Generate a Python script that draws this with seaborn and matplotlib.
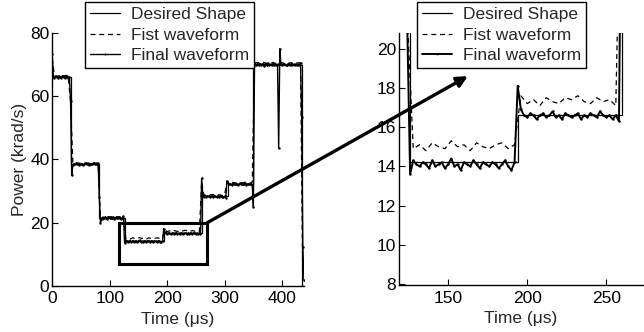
import numpy as np
import matplotlib
matplotlib.use("Agg")
import matplotlib.pyplot as plt
import seaborn as sns
from matplotlib.patches import Rectangle

# ---------------- data ----------------
# Desired step shape (time in us, level in krad/s)
desired_t = [0, 32, 82, 126, 194, 260, 305, 350, 435, 440]
desired_v = [66.0, 38.5, 21.5, 14.2, 16.6, 28.3, 32.2, 70.0, 0.0, 0.0]

# Final waveform, sampled every 2 us (segments in time order)
final_a = [73.5]
final_b = [66.2, 65.8, 66.4, 66.0, 65.7, 66.3, 66.1, 65.9, 66.5, 66.0, 65.8, 66.2, 66.3, 65.9, 66.1]
final_c = [58.5, 35.0]
final_d = [38.2, 38.6, 38.4, 38.8, 38.5, 38.3, 38.7, 38.5, 38.6, 38.2,
           38.4, 38.8, 38.5, 38.6, 38.3, 38.7, 38.4, 38.5, 38.9, 38.6,
           38.4, 38.7, 38.8]
final_e = [28.0, 20.0]
final_f = [21.2, 21.6, 21.4, 21.8, 21.5, 21.3, 21.7, 21.5, 21.4, 21.6,
           21.8, 21.3, 21.5, 21.6, 21.4, 21.7, 21.5, 21.3, 21.6, 22.0]
final_g = [13.6, 14.3]
final_h = [14.1, 14.0, 14.2, 14.1, 13.9, 14.3, 14.0, 14.1, 14.2, 13.9,
           14.1, 14.4, 14.0, 14.1, 13.8, 14.2, 14.1, 14.0, 14.3, 14.1,
           13.9, 14.2, 14.1, 14.0, 14.2, 14.1, 13.9, 14.1, 14.3, 14.0,
           13.8, 14.2]
final_i = [18.1, 16.9]
final_j = [16.6, 16.5, 16.7, 16.6, 16.4, 16.6, 16.7, 16.5, 16.6, 16.8,
           16.5, 16.6, 16.4, 16.7, 16.6, 16.5, 16.6, 16.7, 16.4, 16.6,
           16.5, 16.7, 16.6, 16.5, 16.8, 16.6, 16.5, 16.6, 16.4, 16.6,
           16.3]
final_k = [34.0, 28.6]
final_l = [28.1, 28.4, 28.2, 28.5, 28.3, 28.0, 28.4, 28.3, 28.2, 28.5,
           28.3, 28.1, 28.4, 28.2, 28.3, 28.5, 28.2, 28.0, 28.3, 27.8]
final_m = [33.2, 32.4]
final_n = [32.1, 32.3, 32.0, 32.4, 32.2, 32.1, 32.3, 32.2, 32.0, 32.4,
           32.2, 32.3, 32.1, 32.2, 32.4, 32.0, 32.3, 32.2, 32.1, 32.3, 32.0]
final_o = [25.0]
final_p = [70.3, 69.8, 70.1, 70.4, 69.9, 70.2, 70.0, 70.3, 69.7, 70.1,
           70.2, 69.9, 70.4, 70.0, 70.1, 69.8, 70.3, 70.0, 70.2, 69.9, 70.1]
final_q = [43.5, 75.0]
final_r = [70.2, 69.9, 70.1, 70.3, 69.8, 70.0, 70.2, 70.1, 69.9, 70.3,
           70.0, 70.1, 69.8, 70.2, 70.0, 70.1, 69.9, 70.4]
final_s = [53.5, 12.4, 1.8]

# First waveform, sampled every 4 us
fist_a = [72.0]
fist_b = [66.4, 66.2, 66.5, 66.3, 66.4, 66.6, 66.3]
fist_c = [58.0, 38.8, 38.7, 38.9, 38.8, 38.6, 38.9, 38.8, 38.9, 38.7, 38.9, 38.8, 38.9]
fist_d = [21.0, 21.8, 21.7, 21.9, 21.8, 21.9, 21.6, 21.9, 21.8, 21.9, 22.0]
fist_e = [14.9, 15.1, 14.8, 15.2, 15.0, 14.9, 15.3, 15.0, 15.1, 14.8,
          15.2, 15.0, 14.9, 15.1, 15.2, 14.9, 15.1]
fist_f = [17.6, 17.2, 17.4, 17.1, 17.5, 17.3, 17.2, 17.5, 17.4, 17.6,
          17.3, 17.2, 17.5, 17.3, 17.4, 17.1]
fist_g = [33.0, 28.7, 28.8, 28.6, 28.8, 28.9, 28.7, 28.8, 28.8, 28.6, 28.8, 33.0]
fist_h = [32.6, 32.8, 32.7, 32.5, 32.8, 32.7, 32.6, 32.8, 32.7, 32.5, 32.8]
fist_i = [70.5, 70.7, 70.4, 70.6, 70.7, 70.5, 70.3, 70.6, 70.7, 70.4,
          70.5, 70.7, 70.6, 70.4, 70.7, 70.5, 70.6, 70.3, 70.7, 70.5, 70.6]
fist_j = [2.0]

final_v = np.array(final_a + final_b + final_c + final_d + final_e + final_f + final_g +
                   final_h + final_i + final_j + final_k + final_l + final_m + final_n +
                   final_o + final_p + final_q + final_r + final_s)
final_t = np.arange(len(final_v)) * 2.0
fist_v = np.array(fist_a + fist_b + fist_c + fist_d + fist_e + fist_f + fist_g +
                  fist_h + fist_i + fist_j)
fist_t = np.arange(len(fist_v)) * 4.0

labels = ["Desired Shape", "Fist waveform", "Final waveform"]
xlabel = "Time (\u03bcs)"
ylabel = "Power (krad/s)"

# zoom rectangle (data units of left panel)
zoom_box = (117, 7, 270, 20)

# ---------------- style ----------------
sns.set_style("ticks")
plt.rcParams["font.family"] = ["Liberation Sans", "DejaVu Sans"]
plt.rcParams["font.size"] = 12
plt.rcParams["axes.linewidth"] = 1.0
plt.rcParams["axes.edgecolor"] = "black"

FS = 12.5

fig = plt.figure(figsize=(6.44, 3.32), dpi=100)
ax1 = fig.add_axes([0.081, 0.139, 0.391, 0.7616])
ax2 = fig.add_axes([0.6196, 0.1416, 0.3784, 0.759])


def draw(ax, lw_final):
    sns.lineplot(x=desired_t, y=desired_v, ax=ax, color="black", lw=0.9,
                 drawstyle="steps-post", estimator=None, sort=False, label=labels[0])
    sns.lineplot(x=fist_t, y=fist_v, ax=ax, color="black", lw=0.9, linestyle=(0, (4, 3)),
                 estimator=None, sort=False, label=labels[1])
    sns.lineplot(x=final_t, y=final_v, ax=ax, color="black", lw=lw_final, marker=".",
                 markersize=3.5, markeredgewidth=0, estimator=None, sort=False,
                 label=labels[2])


draw(ax1, 1.0)
draw(ax2, 1.4)

for ax in (ax1, ax2):
    sns.despine(ax=ax)
    ax.tick_params(direction="in", length=4, width=0.8, pad=2, labelsize=FS,
                   colors="black")
    ax.tick_params(axis="x", pad=4)
    ax.set_xlabel(xlabel, fontsize=FS, labelpad=4)

ax1.set_xlim(0, 438)
ax1.set_ylim(0, 80)
ax1.set_xticks([0, 100, 200, 300, 400])
ax1.set_yticks([0, 20, 40, 60, 80])
ax1.set_ylabel(ylabel, fontsize=FS, labelpad=2)

ax2.set_xlim(119, 273)
ax2.set_ylim(7.95, 20.8)
ax2.set_xticks([150, 200, 250])
ax2.set_yticks([8, 10, 12, 14, 16, 18, 20])
ax2.set_ylabel("")

x0, y0, x1, y1 = zoom_box
ax1.add_patch(Rectangle((x0, y0), x1 - x0, y1 - y0, fill=False, lw=2.2,
                        ec="black", zorder=5))

ax2.annotate("", xy=(162.5, 18.6), xycoords="data",
             xytext=(x1, y1), textcoords=ax1.transData,
             arrowprops=dict(arrowstyle="-|>", lw=2.4, color="black",
                             mutation_scale=16, shrinkA=0, shrinkB=0),
             annotation_clip=False)

leg_kw = dict(loc="upper left", frameon=True, fancybox=False, framealpha=1,
              edgecolor="black", prop={"size": FS}, handlelength=1.7, handletextpad=0.65,
              labelspacing=0.3, borderpad=0.3, borderaxespad=0, markerscale=0.8)
top = 1 - 2 / 332
l1 = ax1.legend(bbox_to_anchor=(85 / 644, top), bbox_transform=fig.transFigure, **leg_kw)
l2 = ax2.legend(bbox_to_anchor=(417 / 644, top), bbox_transform=fig.transFigure, **leg_kw)
for lg in (l1, l2):
    lg.get_frame().set_linewidth(1.0)
    lg.set_zorder(10)

fig.savefig("out.png", dpi=100)
